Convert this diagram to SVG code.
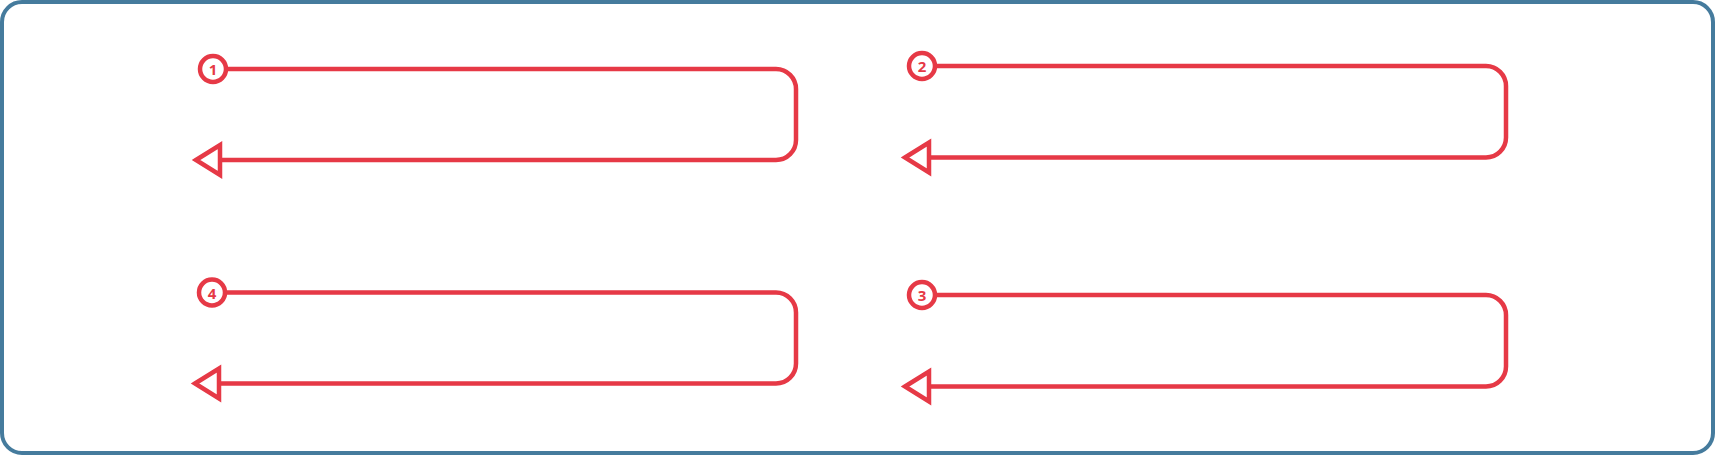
<svg xmlns="http://www.w3.org/2000/svg" width="1715" height="455" viewBox="0 0 1715 455">
<style>
.frame{fill:#ffffff;stroke:#457b9d;stroke-width:4}
.conn{fill:none;stroke:#e63946;stroke-width:4.5}
.head{fill:#ffffff;stroke:#e63946;stroke-width:4.5;stroke-linejoin:miter}
.badge{fill:#ffffff;stroke:#e63946;stroke-width:4.5}
.num{fill:#e63946;font-family:"Open Sans","Liberation Sans",sans-serif;font-weight:700;font-size:15px;text-anchor:middle;dominant-baseline:central}
</style>
<rect class="frame" x="2" y="2" width="1711" height="451" rx="20" ry="20"/>
<g id="connectors">
<path class="conn" d="M228 69 H776 A20 20 0 0 1 796 89 V140 A20 20 0 0 1 776 160 H218"/>
<polygon class="head" points="196,160 220,145 220,175"/>
<path class="conn" d="M937 66 H1486 A20 20 0 0 1 1506 86 V137.5 A20 20 0 0 1 1486 157.5 H928"/>
<polygon class="head" points="905,157.5 929,142.5 929,172.5"/>
<path class="conn" d="M937 295 H1486 A20 20 0 0 1 1506 315 V366.5 A20 20 0 0 1 1486 386.5 H928"/>
<polygon class="head" points="905,386.5 929,371.5 929,401.5"/>
<path class="conn" d="M227 292.5 H776 A20 20 0 0 1 796 312.5 V363.5 A20 20 0 0 1 776 383.5 H217"/>
<polygon class="head" points="195,383.5 219,368.5 219,398.5"/>
</g>
<g id="node1"><circle class="badge" cx="213" cy="69" r="13"/><text class="num" x="213" y="69">1</text></g>
<g id="node2"><circle class="badge" cx="922" cy="66" r="13"/><text class="num" x="922" y="66">2</text></g>
<g id="node3"><circle class="badge" cx="922" cy="295" r="13"/><text class="num" x="922" y="295">3</text></g>
<g id="node4"><circle class="badge" cx="212" cy="292.5" r="13"/><text class="num" x="212" y="292.5">4</text></g>
</svg>
